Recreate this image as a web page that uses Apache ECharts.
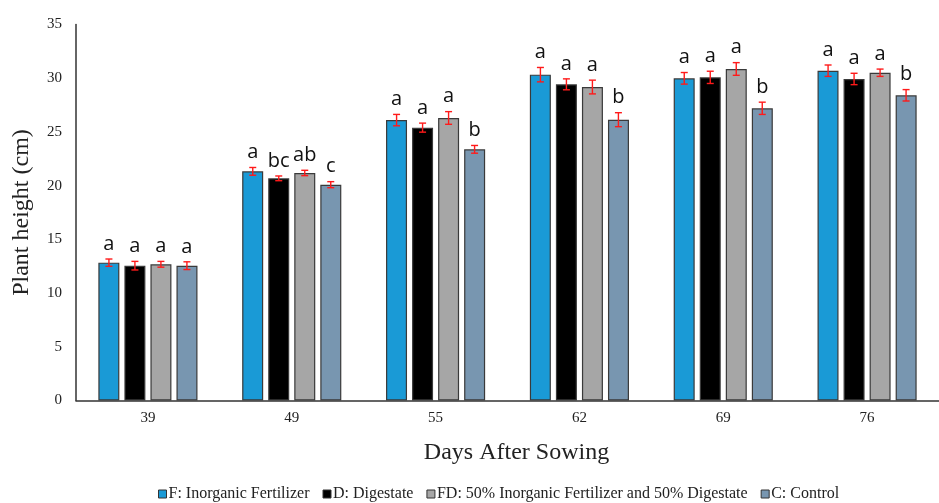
<!DOCTYPE html>
<html>
<head>
<meta charset="utf-8">
<script src="https://cdn.jsdelivr.net/npm/echarts@6/dist/echarts.min.js"></script>
<style>
  html, body { margin: 0; padding: 0; background: #fff; }
  #chart { width: 939px; height: 503px; }
</style>
</head>
<body>
<div id="chart"></div>
<script>
// data
const days = ['39', '49', '55', '62', '69', '76'];
const yTicks = [0, 5, 10, 15, 20, 25, 30, 35];

const names = [
  'F: Inorganic Fertilizer',
  'D: Digestate',
  'FD: 50% Inorganic Fertilizer and 50% Digestate',
  'C: Control'
];

const fValues = [12.83, 21.33, 26.1, 30.33, 29.99, 30.7];
const dValues = [12.55, 20.68, 25.4, 29.43, 30.08, 29.93];
const fdValues = [12.68, 21.18, 26.3, 29.18, 30.86, 30.51];
const cValues = [12.55, 20.09, 23.38, 26.14, 27.2, 28.41];

const fErr = [0.34, 0.36, 0.53, 0.67, 0.54, 0.53];
const dErr = [0.4, 0.22, 0.42, 0.51, 0.57, 0.53];
const fdErr = [0.27, 0.25, 0.59, 0.64, 0.59, 0.34];
const cErr = [0.36, 0.28, 0.36, 0.65, 0.57, 0.53];

const fLetters = ['a', 'a', 'a', 'a', 'a', 'a'];
const dLetters = ['a', 'bc', 'a', 'a', 'a', 'a'];
const fdLetters = ['a', 'ab', 'a', 'a', 'a', 'a'];
const cLetters = ['a', 'c', 'b', 'b', 'b', 'b'];

const values = [fValues, dValues, fdValues, cValues];
const errors = [fErr, dErr, fdErr, cErr];
const letters = [fLetters, dLetters, fdLetters, cLetters];
const colors = ['#1a9ad6', '#000000', '#a6a6a6', '#7896b0'];

const BAR_W = 21;
const BAR_STEP = 26;
const serif = '"Liberation Serif", "DejaVu Serif", serif';

const chart = echarts.init(document.getElementById('chart'));

const barSeries = values.map((vals, k) => ({
  name: names[k],
  type: 'bar',
  barWidth: BAR_W,
  barGap: '24%',
  itemStyle: { color: colors[k], borderColor: '#3a3a3a', borderWidth: 1.2 },
  data: vals
}));

// error bars + significance letters
const errSeries = values.map((vals, k) => ({
  name: 'err' + k,
  type: 'custom',
  z: 5,
  encode: { x: 0, y: 1 },
  data: vals.map((v, i) => [i, v, errors[k][i], letters[k][i]]),
  renderItem: (params, api) => {
    const i = api.value(0);
    const v = api.value(1);
    const e = api.value(2);
    const dx = (k - 1.5) * BAR_STEP;
    const top = api.coord([i, v + e]);
    const bot = api.coord([i, v - e]);
    const x = top[0] + dx;
    const cap = 3.5;
    const red = { stroke: '#ff1a1a', lineWidth: 1.4 };
    return {
      type: 'group',
      children: [
        { type: 'line', shape: { x1: x, y1: top[1], x2: x, y2: bot[1] }, style: red },
        { type: 'line', shape: { x1: x - cap, y1: top[1], x2: x + cap, y2: top[1] }, style: red },
        { type: 'line', shape: { x1: x - cap, y1: bot[1], x2: x + cap, y2: bot[1] }, style: red },
        {
          type: 'text',
          x: x,
          y: top[1] - 5,
          style: {
            text: letters[k][i],
            fill: '#111',
            font: '20px "Open Sans", "Noto Sans", sans-serif',
            align: 'center',
            verticalAlign: 'bottom'
          }
        }
      ]
    };
  }
}));

chart.setOption({
  animation: false,
  grid: { left: 76, top: 24.5, width: 874, bottom: 102.5 },
  legend: {
    data: names,
    top: 481,
    left: 153,
    icon: 'rect',
    itemWidth: 8,
    itemHeight: 8,
    itemGap: 13,
    itemStyle: { borderColor: '#333', borderWidth: 1 },
    textStyle: { fontFamily: serif, fontSize: 16, color: '#222', padding: [0, 0, 0, -3] }
  },
  xAxis: {
    type: 'category',
    data: days,
    name: 'Days After Sowing',
    nameLocation: 'middle',
    nameGap: 40,
    nameTextStyle: { fontFamily: serif, fontSize: 24, color: '#222', padding: [0, 0, 0, 18] },
    axisLine: { lineStyle: { color: '#333', width: 1.5 } },
    axisTick: { show: false },
    axisLabel: { fontFamily: serif, fontSize: 15, color: '#222', margin: 10 }
  },
  yAxis: {
    type: 'value',
    min: yTicks[0],
    max: yTicks[yTicks.length - 1],
    interval: 5,
    name: 'Plant height (cm)',
    nameLocation: 'middle',
    nameGap: 42,
    nameTextStyle: { fontFamily: serif, fontSize: 24, color: '#222' },
    axisLine: { show: true, lineStyle: { color: '#333', width: 1.5 } },
    axisTick: { show: false },
    splitLine: { show: false },
    axisLabel: { fontFamily: serif, fontSize: 15, color: '#222', margin: 14 }
  },
  series: barSeries.concat(errSeries)
});
</script>
</body>
</html>
